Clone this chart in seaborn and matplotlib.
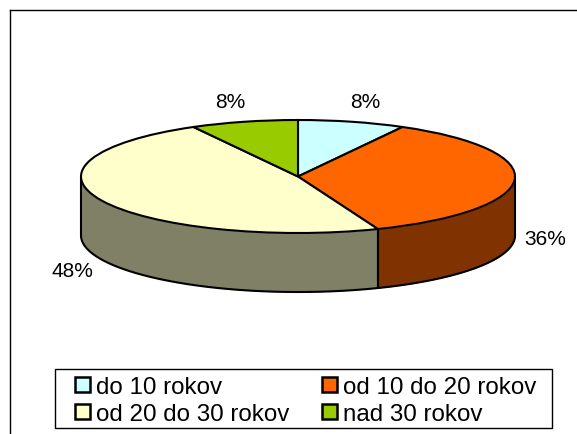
import numpy as np
import matplotlib
matplotlib.use("Agg")
import matplotlib.pyplot as plt
from matplotlib.patches import Rectangle
import seaborn as sns

categories = ['do 10 rokov', 'od 10 do 20 rokov', 'od 20 do 30 rokov', 'nad 30 rokov']
values = [8, 36, 48, 8]
top_colors = ['#CCFFFF', '#FF6600', '#FFFFCC', '#99CC00']
side_colors = ['#667F7F', '#803300', '#808066', '#4C6600']

W, H = 577, 435
CX, CY, RX, RY, DEPTH = 298, 177.5, 217, 56.5, 59


def px(x, y):
    # picture pixels to pie units
    return (x - CX) / RX, (CY - y) / RY


def main():
    sns.set_theme(style='white')
    plt.rcParams['font.family'] = ['Liberation Sans', 'DejaVu Sans']

    fig = plt.figure(figsize=(W / 100, H / 100), dpi=100)
    ax = fig.add_axes([10 / W, 0, (W - 10) / W, (H - 11) / H])

    palette = sns.color_palette(top_colors)
    depth = DEPTH / RY

    # side wall, only the front half of the pie shows
    ends = np.cumsum(values) / np.sum(values) * 360
    starts = np.concatenate([[0], ends[:-1]])
    for a, b, c in zip(starts, ends, side_colors):
        a, b = max(a, 90), min(b, 270)
        if b <= a:
            continue
        t = np.radians(np.linspace(a, b, 100))
        x, y = np.sin(t), np.cos(t)
        ax.fill_between(x, y - depth, y, color=c, lw=0, zorder=1)
        ax.plot(x, y - depth, color='black', lw=1.5, zorder=2)
        for tt in (t[0], t[-1]):
            ax.plot([np.sin(tt)] * 2, [np.cos(tt), np.cos(tt) - depth],
                    color='black', lw=1.5, zorder=2)

    wedges, _ = ax.pie(values, colors=palette, startangle=90, counterclock=False,
                       frame=True, radius=1,
                       wedgeprops={'edgecolor': 'black', 'linewidth': 1.5, 'zorder': 3})

    # pie forces equal aspect, squash it to the flat ellipse
    ax.set_aspect('auto')
    ax.set_xlim(px(10, 0)[0], px(W, 0)[0])
    ax.set_ylim(px(0, H)[1], px(0, 11)[1])
    ax.set_xticks([])
    ax.set_yticks([])
    for side in ['right', 'bottom']:
        ax.spines[side].set_visible(False)
    for side in ['left', 'top']:
        ax.spines[side].set_color('black')
        ax.spines[side].set_linewidth(1)

    label_pos = [(365, 103), (545, 240), (72, 272), (230, 103)]
    total = sum(values)
    for v, (lx, ly) in zip(values, label_pos):
        x, y = px(lx, ly)
        ax.text(x, y, f"{round(v / total * 100)}%", fontsize=15, color='black',
                ha='center', va='center', zorder=5)

    # legend box is drawn by hand, its padding differs left and top
    fig.add_artist(Rectangle((55 / W, (H - 429) / H), 497 / W, 59 / H,
                             transform=fig.transFigure, facecolor='white',
                             edgecolor='black', lw=1, zorder=4))

    order = [0, 2, 1, 3]
    leg = ax.legend([wedges[i] for i in order], [categories[i] for i in order],
                    ncol=2, loc='center',
                    bbox_to_anchor=(306 / W, (H - 401.5) / H),
                    bbox_transform=fig.transFigure,
                    fontsize=17.4, frameon=False, labelcolor='black',
                    borderpad=0, labelspacing=0.22,
                    columnspacing=1.35, handlelength=0.62, handleheight=0.62,
                    handletextpad=0.25)
    leg.set_zorder(6)
    for h in leg.get_patches():
        h.set_linewidth(1.8)
    fig.add_artist(leg)

    fig.savefig('out.png', dpi=100)


if __name__ == "__main__":
    main()
